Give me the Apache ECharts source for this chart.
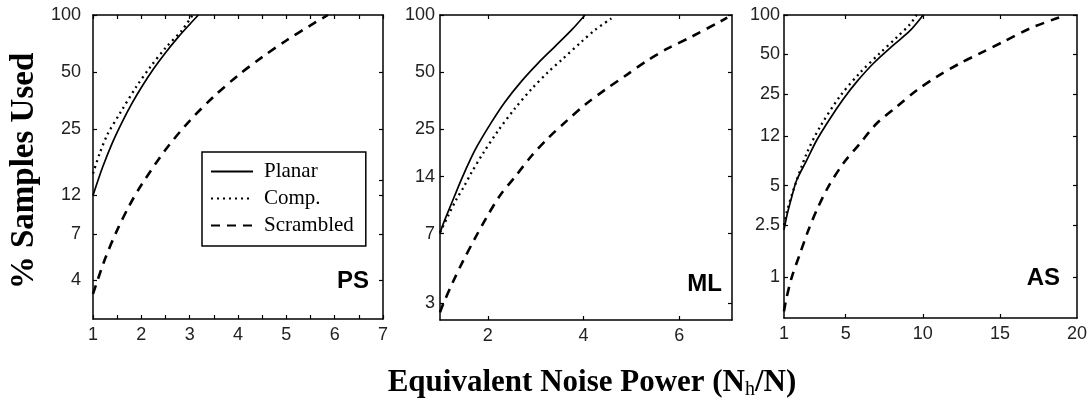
<!DOCTYPE html>
<html><head><meta charset="utf-8">
<script src="https://cdn.jsdelivr.net/npm/echarts@6/dist/echarts.min.js"></script>
<style>html,body{margin:0;padding:0;background:#fff}#c{width:1091px;height:402px}</style>
</head><body><div id="c"></div>
<script>
// ---------- data ----------
const seriesNames = ['Planar', 'Comp.', 'Scrambled'];
const panelNames = ['PS', 'ML', 'AS'];

// PS panel  [noise power, % samples used]
const psPlanar = [[1,11.2],[1.2,15.8],[1.4,21.2],[1.6,27.2],[1.8,34],[2,41.5],[2.25,51.9],[2.5,63.3],[2.75,75.8],[3,89.3],[3.18,100]];
const psComp = [[1,14.6],[1.14,18.7],[1.3,23.5],[1.56,30.4],[1.9,42],[2.18,53],[2.52,68],[2.84,83],[3.06,100]];
const psScrambled = [[1,3.39],[1.25,5.19],[1.5,7.35],[1.75,9.88],[2,12.7],[2.5,19.5],[3,27.7],[3.5,37.2],[4,48],[4.5,60],[5,73.4],[5.5,88.2],[5.86,100]];

// ML panel
const mlPlanar = [[1,7],[1.06,7.8],[1.24,10.1],[1.45,13.6],[1.65,17.6],[1.79,20.6],[2.07,27],[2.35,34.5],[2.7,44.6],[3.05,55.7],[3.4,68.1],[3.75,83.4],[4.03,100]];
const mlComp = [[1,7.1],[1.17,8.7],[1.34,10.6],[1.5,12.4],[1.65,14.6],[1.9,18.6],[2.21,24.4],[2.56,32],[2.91,40.6],[3.26,50],[3.54,57.9],[3.96,72.4],[4.24,83.4],[4.58,96]];
const mlScrambled = [[1,2.69],[1.06,2.95],[1.27,3.89],[1.48,5.01],[1.73,6.61],[1.97,8.51],[2.25,11.1],[2.58,14.1],[2.91,18],[3.26,22.4],[3.64,27.5],[4.03,33.6],[4.45,40.3],[4.9,48.3],[5.35,57.9],[5.77,66.8],[6.26,76.9],[6.85,92.3],[7.0,97]];

// AS panel
const asPlanar = [[1,2.3],[1.2,3.0],[1.5,4.1],[1.82,5.5],[2.47,7.8],[3.12,11.1],[3.98,16.2],[4.85,22.9],[5.71,30.9],[6.79,42.7],[8.09,58.9],[9.17,75.9],[10.03,100]];
const asComp = [[1,2.5],[1.2,3.2],[1.6,4.6],[2.47,8.8],[3.33,14],[4.63,24],[5.93,36.3],[7.23,51.3],[8.31,67.6],[9.17,85],[9.6,100]];
const asScrambled = [[1,0.55],[1.13,0.67],[1.5,1.0],[2.04,1.52],[2.58,2.29],[3.12,3.25],[3.87,4.9],[4.85,7.4],[5.93,10.5],[7.01,14.9],[8.31,20],[9.61,26.7],[10.9,33.8],[12.41,42.8],[13.71,51],[15.22,62.5],[16.95,79],[18.68,94.4],[19,97]];

// axis ticks / labels
const psXTicks = [1,1.5,2,2.5,3,3.5,4,4.5,5,5.5,6,6.5,7];
const psXLabels = [1,2,3,4,5,6,7];
const mlXTicks = [2,4,6];
const mlXLabels = [2,4,6];
const asXTicks = [5,10,15];
const asXLabels = [1,5,10,15,20];

const psYTicks = [4,7,11.2,25,50,100];
const psYLabels = ['4','7','12','25','50','100'];
const psYRightTicks = [4,7,11.2,13.5,25,50];
const mlYTicks = [3,7,14,25,50,100];
const mlYLabels = ['3','7','14','25','50','100'];
const asYTicks = [1,2.5,5,12,25,50,100];
const asYLabels = ['1','2.5','5','12','25','50','100'];

const xTitle = 'Equivalent Noise Power (N{s|h}/N)';
const yTitle = '% Samples Used';

// ---------- chart ----------
const panels = [
  {grid:{left:93, top:15, width:290, height:304}, xMin:1, xMax:7, yMin:2.5, yMax:100,
   xTicks:psXTicks, xLabels:psXLabels, yTicks:psYTicks, yLabels:psYLabels, yRight:psYRightTicks,
   data:[psPlanar, psComp, psScrambled], labelMargin:12, tag:{x:369,y:281}},
  {grid:{left:440, top:15, width:292, height:305}, xMin:1, xMax:7.1, yMin:2.45, yMax:100,
   xTicks:mlXTicks, xLabels:mlXLabels, yTicks:mlYTicks, yLabels:mlYLabels, yRight:mlYTicks,
   data:[mlPlanar, mlComp, mlScrambled], labelMargin:5, tag:{x:722,y:284}},
  {grid:{left:784, top:15, width:293, height:303}, xMin:1, xMax:20, yMin:0.49, yMax:100,
   xTicks:asXTicks, xLabels:asXLabels, yTicks:asYTicks, yLabels:asYLabels, yRight:asYTicks,
   data:[asPlanar, asComp, asScrambled], labelMargin:4, tag:{x:1060,y:278}}
];

const lineStyles = [
  {color:'#000', width:1.7, type:'solid'},
  {color:'#000', width:2.3, type:[2,4]},
  {color:'#000', width:2.6, type:[9,7]}
];

const axisLine = {show:true, onZero:false, lineStyle:{color:'#000', width:1.5}};
const labelFont = {fontFamily:'Liberation Sans', fontSize:18, color:'#222'};

const grids = [], xAxes = [], yAxes = [], series = [], graphics = [];
panels.forEach((p, i) => {
  grids.push(p.grid);
  xAxes.push({gridIndex:i, type:'value', min:p.xMin, max:p.xMax, position:'bottom',
    axisLine, splitLine:{show:false},
    axisTick:{inside:true, length:4, customValues:p.xTicks, lineStyle:{color:'#000', width:1.2}},
    axisLabel:Object.assign({customValues:p.xLabels, margin:7, formatter:v => String(v)}, labelFont)});
  xAxes.push({gridIndex:i, type:'value', min:p.xMin, max:p.xMax, position:'top',
    axisLine, splitLine:{show:false},
    axisTick:{inside:true, length:4, customValues:p.xTicks, lineStyle:{color:'#000', width:1.2}},
    axisLabel:{show:false}});
  yAxes.push({gridIndex:i, type:'log', logBase:10, min:p.yMin, max:p.yMax, position:'left',
    axisLine, splitLine:{show:false}, minorTick:{show:false},
    axisTick:{inside:true, length:4, customValues:p.yTicks, lineStyle:{color:'#000', width:1.2}},
    axisLabel:Object.assign({customValues:p.yTicks, margin:p.labelMargin,
      formatter:v => { const k = p.yTicks.findIndex(t => Math.abs(t - v) / t < 0.01); return k >= 0 ? p.yLabels[k] : ''; }}, labelFont)});
  yAxes.push({gridIndex:i, type:'log', logBase:10, min:p.yMin, max:p.yMax, position:'right',
    axisLine, splitLine:{show:false}, minorTick:{show:false},
    axisTick:{inside:true, length:4, customValues:p.yRight, lineStyle:{color:'#000', width:1.2}},
    axisLabel:{show:false}});
  p.data.forEach((d, k) => {
    series.push({type:'line', name:seriesNames[k], xAxisIndex:2*i, yAxisIndex:2*i,
      data:d, symbol:'none', smooth:0.3,
      lineStyle:lineStyles[k], itemStyle:{color:'#000'}, silent:true});
  });
  graphics.push({type:'text', x:p.tag.x, y:p.tag.y,
    style:{text:panelNames[i], font:'bold 24px "Liberation Sans"', fill:'#000', align:'right', verticalAlign:'middle'}});
});

graphics.push({type:'text', x:24, y:171, rotation:Math.PI/2,
  style:{text:yTitle, font:'bold 33px "Liberation Serif"', fill:'#000', align:'center', verticalAlign:'middle'}});
graphics.push({type:'text', x:592, y:383,
  style:{text:xTitle, fontFamily:'Liberation Serif', fontWeight:'bold', fontSize:31, fill:'#000',
    align:'center', verticalAlign:'middle',
    rich:{s:{fontFamily:'Liberation Serif', fontWeight:'normal', fontSize:20, fill:'#000', padding:[13,0,0,0]}}}});

const chart = echarts.init(document.getElementById('c'), null, {renderer:'canvas'});
chart.setOption({
  animation:false,
  backgroundColor:'#fff',
  grid:grids, xAxis:xAxes, yAxis:yAxes, series,
  legend:{data:seriesNames, left:202, top:152, orient:'vertical',
    borderColor:'#000', borderWidth:1.5, padding:[9,12,10,8], itemGap:6,
    itemWidth:42, itemHeight:12, itemStyle:{opacity:0},
    textStyle:{fontFamily:'Liberation Serif', fontSize:21, color:'#000', padding:[0,0,0,6]}},
  graphic:graphics
});
</script></body></html>
